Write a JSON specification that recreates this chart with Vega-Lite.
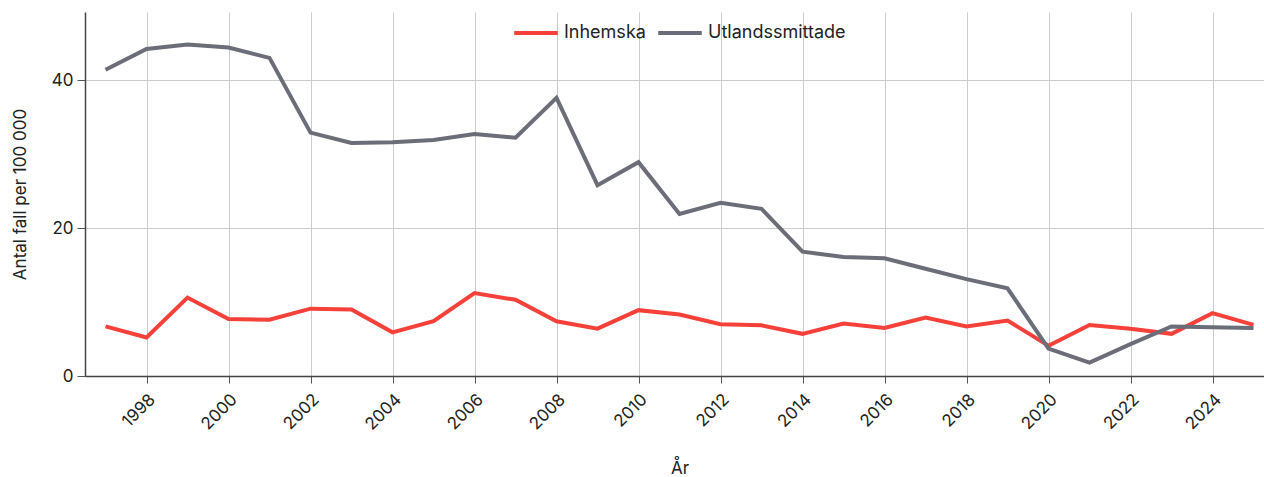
{
  "$schema": "https://vega.github.io/schema/vega-lite/v6.json",
  "width": 1189,
  "height": 364,
  "autosize": "none",
  "padding": {"left": 85, "top": 12, "right": 0, "bottom": 101},
  "background": "white",
  "config": {
    "font": "Inter",
    "view": {"stroke": null},
    "axis": {"labelFont": "Inter", "titleFont": "Inter", "labelColor": "#222", "titleColor": "#222", "titleFontWeight": "normal", "gridColor": "#cccccc", "domainColor": "#444", "tickColor": "#555"}
  },
  "data": {
    "values": [
      {"year": 1997, "series": "Inhemska", "value": 6.7},
      {"year": 1998, "series": "Inhemska", "value": 5.2},
      {"year": 1999, "series": "Inhemska", "value": 10.6},
      {"year": 2000, "series": "Inhemska", "value": 7.7},
      {"year": 2001, "series": "Inhemska", "value": 7.6},
      {"year": 2002, "series": "Inhemska", "value": 9.1},
      {"year": 2003, "series": "Inhemska", "value": 9.0},
      {"year": 2004, "series": "Inhemska", "value": 5.9},
      {"year": 2005, "series": "Inhemska", "value": 7.4},
      {"year": 2006, "series": "Inhemska", "value": 11.2},
      {"year": 2007, "series": "Inhemska", "value": 10.3},
      {"year": 2008, "series": "Inhemska", "value": 7.4},
      {"year": 2009, "series": "Inhemska", "value": 6.4},
      {"year": 2010, "series": "Inhemska", "value": 8.9},
      {"year": 2011, "series": "Inhemska", "value": 8.3},
      {"year": 2012, "series": "Inhemska", "value": 7.0},
      {"year": 2013, "series": "Inhemska", "value": 6.85},
      {"year": 2014, "series": "Inhemska", "value": 5.7},
      {"year": 2015, "series": "Inhemska", "value": 7.1},
      {"year": 2016, "series": "Inhemska", "value": 6.5},
      {"year": 2017, "series": "Inhemska", "value": 7.9},
      {"year": 2018, "series": "Inhemska", "value": 6.7},
      {"year": 2019, "series": "Inhemska", "value": 7.5},
      {"year": 2020, "series": "Inhemska", "value": 4.1},
      {"year": 2021, "series": "Inhemska", "value": 6.9},
      {"year": 2022, "series": "Inhemska", "value": 6.4},
      {"year": 2023, "series": "Inhemska", "value": 5.7},
      {"year": 2024, "series": "Inhemska", "value": 8.5},
      {"year": 2025, "series": "Inhemska", "value": 6.9},
      {"year": 1997, "series": "Utlandssmittade", "value": 41.4},
      {"year": 1998, "series": "Utlandssmittade", "value": 44.2},
      {"year": 1999, "series": "Utlandssmittade", "value": 44.8},
      {"year": 2000, "series": "Utlandssmittade", "value": 44.4},
      {"year": 2001, "series": "Utlandssmittade", "value": 43.0},
      {"year": 2002, "series": "Utlandssmittade", "value": 32.9},
      {"year": 2003, "series": "Utlandssmittade", "value": 31.5},
      {"year": 2004, "series": "Utlandssmittade", "value": 31.6},
      {"year": 2005, "series": "Utlandssmittade", "value": 31.9},
      {"year": 2006, "series": "Utlandssmittade", "value": 32.7},
      {"year": 2007, "series": "Utlandssmittade", "value": 32.2},
      {"year": 2008, "series": "Utlandssmittade", "value": 37.6},
      {"year": 2009, "series": "Utlandssmittade", "value": 25.8},
      {"year": 2010, "series": "Utlandssmittade", "value": 28.9},
      {"year": 2011, "series": "Utlandssmittade", "value": 21.9},
      {"year": 2012, "series": "Utlandssmittade", "value": 23.4},
      {"year": 2013, "series": "Utlandssmittade", "value": 22.6},
      {"year": 2014, "series": "Utlandssmittade", "value": 16.8},
      {"year": 2015, "series": "Utlandssmittade", "value": 16.1},
      {"year": 2016, "series": "Utlandssmittade", "value": 15.9},
      {"year": 2017, "series": "Utlandssmittade", "value": 14.5},
      {"year": 2018, "series": "Utlandssmittade", "value": 13.1},
      {"year": 2019, "series": "Utlandssmittade", "value": 11.85},
      {"year": 2020, "series": "Utlandssmittade", "value": 3.7},
      {"year": 2021, "series": "Utlandssmittade", "value": 1.8},
      {"year": 2022, "series": "Utlandssmittade", "value": 4.3},
      {"year": 2023, "series": "Utlandssmittade", "value": 6.7},
      {"year": 2024, "series": "Utlandssmittade", "value": 6.6},
      {"year": 2025, "series": "Utlandssmittade", "value": 6.5}
    ]
  },
  "mark": {"type": "line", "strokeWidth": 4, "strokeJoin": "miter"},
  "encoding": {
    "x": {
      "field": "year", "type": "quantitative", "title": "År",
      "scale": {"domain": [1996.5, 2025.5], "nice": false, "zero": false},
      "axis": {"values": [1998, 2000, 2002, 2004, 2006, 2008, 2010, 2012, 2014, 2016, 2018, 2020, 2022, 2024], "format": "d", "labelAngle": -45, "labelFontSize": 17, "titleFontSize": 17, "titlePadding": 28, "tickSize": 7, "labelPadding": 8, "domainWidth": 1.5}
    },
    "y": {
      "field": "value", "type": "quantitative", "title": "Antal fall per 100 000",
      "scale": {"domain": [0, 49.2], "nice": false},
      "axis": {"values": [0, 20, 40], "labelFontSize": 17, "titleFontSize": 17, "tickSize": 8, "labelPadding": 4, "titlePadding": 22, "domainWidth": 1.5}
    },
    "color": {
      "field": "series", "type": "nominal",
      "scale": {"domain": ["Inhemska", "Utlandssmittade"], "range": ["#f5413a", "#6b6e78"]},
      "legend": {"title": null, "orient": "none", "direction": "horizontal", "legendX": 427, "legendY": -3, "symbolType": "stroke", "symbolStrokeWidth": 4, "symbolSize": 1900, "labelFontSize": 18, "labelColor": "#222", "columnPadding": 4, "symbolOffset": 0}
    }
  }
}
